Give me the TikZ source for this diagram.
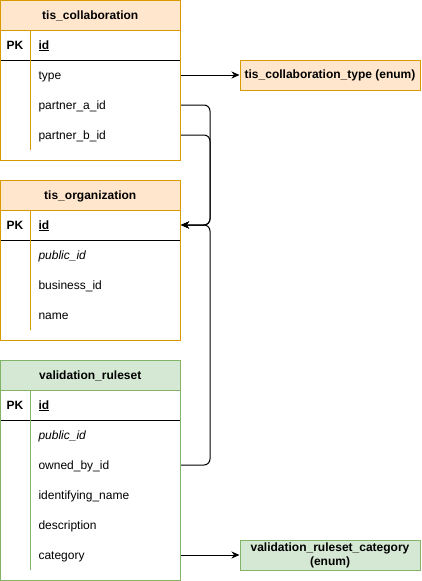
\documentclass[tikz,border=0pt]{standalone}
\usepackage{fontspec}
\setmainfont{Liberation Sans}
\usepackage{tikz}
\usetikzlibrary{arrows.meta}
\definecolor{orangefill}{HTML}{FFE6CC}
\definecolor{orangeline}{HTML}{D79B00}
\definecolor{greenfill}{HTML}{D5E8D4}
\definecolor{greenline}{HTML}{82B366}
\begin{document}
\begin{tikzpicture}[x=1pt,y=-1pt,font=\fontsize{12}{14}\selectfont,line width=1pt]
\tikzstyle{head}=[rectangle,minimum width=179.5pt,minimum height=29.5pt,inner sep=0pt,text height=10pt,text depth=2pt,font=\fontsize{12}{14}\selectfont\bfseries]
\tikzstyle{row}=[rectangle,anchor=west,text width=134pt,inner xsep=8pt,inner ysep=0pt,minimum height=30pt,text height=10pt,text depth=2pt,align=left]
\tikzstyle{pk}=[rectangle,inner sep=0pt,text height=10pt,text depth=2pt,font=\fontsize{12}{14}\selectfont\bfseries]
\tikzstyle{enum}=[rectangle,minimum width=180pt,minimum height=30pt,inner sep=0pt,align=center,font=\fontsize{12}{14}\selectfont\bfseries]
\tikzstyle{link}=[draw,rounded corners=6pt,-{Stealth[length=8pt,width=7pt,inset=2.5pt]}]
\useasboundingbox (0,0) rectangle (421,581);
\draw[orangeline] (0.5,0.5) rectangle (180,160);
\node[head,fill=orangefill,draw=orangeline] (collhead) at (90.25,15.25) {tis\_collaboration};
\draw (0.5,60) -- (180,60);
\draw[orangeline] (30,30) -- (30,150);
\node[pk] (collpk) at (15,45) {PK};
\node[row] (collid) at (30,45) {\underline{\textbf{id}}};
\node[row] (colltype) at (30,75) {type};
\node[row] (collpa) at (30,105) {partner\_a\_id};
\node[row] (collpb) at (30,135) {partner\_b\_id};
\node[enum,fill=orangefill,draw=orangeline] (colltypeenum) at (330,75) {tis\_collaboration\_type (enum)};
\draw[orangeline] (0.5,180.5) rectangle (180,340);
\node[head,fill=orangefill,draw=orangeline] (orghead) at (90.25,195.25) {tis\_organization};
\draw (0.5,240) -- (180,240);
\draw[orangeline] (30,210) -- (30,330);
\node[pk] (orgpk) at (15,225) {PK};
\node[row] (orgid) at (30,225) {\underline{\textbf{id}}};
\node[row] (orgpub) at (30,255) {\textit{public\_id}};
\node[row] (orgbiz) at (30,285) {business\_id};
\node[row] (orgname) at (30,315) {name};
\draw[greenline] (0.5,360.5) rectangle (180,580);
\node[head,fill=greenfill,draw=greenline] (rshead) at (90.25,375.25) {validation\_ruleset};
\draw (0.5,420) -- (180,420);
\draw[greenline] (30,390) -- (30,570);
\node[pk] (rspk) at (15,405) {PK};
\node[row] (rsid) at (30,405) {\underline{\textbf{id}}};
\node[row] (rspub) at (30,435) {\textit{public\_id}};
\node[row] (rsowner) at (30,465) {owned\_by\_id};
\node[row] (rsident) at (30,495) {identifying\_name};
\node[row] (rsdesc) at (30,525) {description};
\node[row] (rscat) at (30,555) {category};
\node[enum,fill=greenfill,draw=greenline] (rscatenum) at (330,555) {validation\_ruleset\_category\\(enum)};
\coordinate (orgbus) at (210,225);
\draw[link] (colltype.east) -- (colltypeenum.west);
\draw[link] (collpa.east) -| (orgbus) -- (orgid.east);
\draw[link] (collpb.east) -| (orgbus) -- (orgid.east);
\draw[link] (rsowner.east) -| (orgbus) -- (orgid.east);
\draw[link] (rscat.east) -- (rscatenum.west);
\end{tikzpicture}
\end{document}
